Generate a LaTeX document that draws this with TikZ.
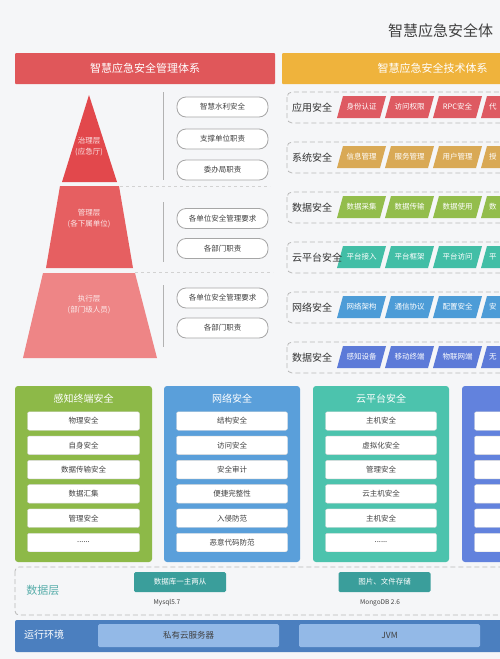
\documentclass[tikz,border=0pt]{standalone}
\usepackage{fontspec}
\setmainfont{Noto Sans CJK SC}
\usepackage{tikz}
\usetikzlibrary{positioning,calc}
\definecolor{pagebg}{HTML}{F5F6F8}
\definecolor{mgmtred}{HTML}{E0575A}
\definecolor{techorange}{HTML}{EFB33C}
\definecolor{pyrtop}{HTML}{E2484C}
\definecolor{pyrmid}{HTML}{E65F61}
\definecolor{pyrbot}{HTML}{EE8586}
\definecolor{tagred}{HTML}{DE5A62}
\definecolor{taggold}{HTML}{D9A955}
\definecolor{taggreen}{HTML}{93BD4C}
\definecolor{tagteal}{HTML}{42BEA6}
\definecolor{tagblue}{HTML}{4D9CD7}
\definecolor{tagindigo}{HTML}{5C7AD8}
\definecolor{colgreen}{HTML}{8DB948}
\definecolor{colblue}{HTML}{5A9FDA}
\definecolor{colteal}{HTML}{4CC3AD}
\definecolor{colindigo}{HTML}{6282DD}
\definecolor{datateal}{HTML}{3A9E9B}
\definecolor{runblue}{HTML}{4B7FBF}
\definecolor{runlight}{HTML}{93B9E7}
\tikzset{header/.style={rectangle, inner sep=0pt, text=white, font=\fontsize{11}{12}\selectfont},
  pill/.style={rectangle, rounded corners=9pt, draw=gray!70, line width=0.8pt, fill=white, minimum width=91pt, minimum height=20pt, inner sep=0pt, text=black!75, font=\fontsize{7.5}{8}\selectfont},
  layertext/.style={align=center, text=white, text opacity=0.85, font=\fontsize{7.5}{11}\selectfont},
  rowbox/.style={draw=gray!55, dash pattern=on 5pt off 3pt, rounded corners=5pt, line width=0.8pt},
  rowlab/.style={text=black!80, font=\fontsize{10}{11}\selectfont, inner sep=0pt},
  tagtext/.style={text=white, font=\fontsize{7.5}{8}\selectfont, inner sep=0pt},
  coltitle/.style={text=white, font=\fontsize{10}{11}\selectfont, inner sep=0pt},
  itembox/.style={rectangle, rounded corners=2pt, fill=white, draw=black!15, minimum height=18.5pt, inner sep=0pt, text=black!75, font=\fontsize{7.5}{8}\selectfont},
  dbbox/.style={rectangle, rounded corners=1.5pt, fill=datateal, minimum width=92pt, minimum height=20pt, inner sep=0pt, text=white, font=\fontsize{7.5}{8}\selectfont},
  runbox/.style={rectangle, rounded corners=1.5pt, fill=runlight, minimum width=181pt, minimum height=23pt, inner sep=0pt, text=black!75, font=\fontsize{8.5}{9}\selectfont},
  smalltext/.style={text=black!75, font=\fontsize{6.5}{7}\selectfont, inner sep=0pt}}
\newcommand{\moredots}{......}
\newcommand{\techrow}[5]{%
  \draw[rowbox] (287,#1) rectangle (520,#1+31);
  \foreach \t [count=\k from 0] in {#4} {
    \fill[#3] (337+48*\k,#1+26) -- ++(43,0) -- ++(6,-22) -- ++(-43,0) -- cycle;
    \node[tagtext] (tag-#1-\k) at (361.5+48*\k,#1+15) {\t};
  }
  \fill[#3] (481,#1+26) -- ++(43,0) -- ++(6,-22) -- ++(-43,0) -- cycle;
  \node[tagtext, anchor=west] (tag-#1-3) at (489,#1+15) {#5};
  \node[rowlab, anchor=west] (row-#1) at (292,#1+15.5) {#2};
}
\newcommand{\seccol}[5]{%
  \fill[#3, rounded corners=3pt] (#1,386) rectangle ++(#2,176);
  \node[coltitle] (col-#1) at (#1+#2/2,399) {#4};
  \foreach \t [count=\k from 0] in {#5} {
    \node[itembox, minimum width=#2-25] (item-#1-\k) at (#1+#2/2,421+24.3*\k) {\t};
  }
}
\begin{document}
\begin{tikzpicture}[x=1pt,y=-1pt]
\useasboundingbox (0,0) rectangle (500,659);
\fill[pagebg] (0,0) rectangle (500,659);
\node[anchor=west, inner sep=0pt, text=black!75, font=\fontsize{15}{16}\selectfont] (maintitle) at (388,31) {智慧应急安全体};
\fill[mgmtred, rounded corners=1pt] (15,53) rectangle (275,84);
\node[header] (mgmthead) at (145,68.5) {智慧应急安全管理体系};
\fill[techorange, rounded corners=1pt] (282,53) rectangle (583,84);
\node[header] (techhead) at (432.5,68.5) {智慧应急安全技术体系};
\fill[pyrtop] (89,95) -- (117,182) -- (62,182) -- cycle;
\fill[pyrmid] (60,186) -- (119,186) -- (133,268) -- (46,268) -- cycle;
\fill[pyrbot] (43,273) -- (135,273) -- (157,358) -- (23,358) -- cycle;
\node[layertext] (layer1) at (89,147) {治理层\\(应急厅)};
\node[layertext] (layer2) at (89,219) {管理层\\(各下属单位)};
\node[layertext] (layer3) at (89,305) {执行层\\(部门级人员)};
\draw[gray!60, line width=1pt] (163,92) -- (163,180) (163,202) -- (163,262) (163,285) -- (163,347);
\draw[gray!35, dashed] (120,186) -- (270,186) (135,272) -- (273,272);
\foreach \t/\y [count=\i] in {智慧水利安全/107, 支撑单位职责/139, 委办局职责/170, 各单位安全管理要求/218.5, 各部门职责/248.5, 各单位安全管理要求/298, 各部门职责/328}
  \node[pill] (duty-\i) at (222.5,\y) {\t};
\techrow{92}{应用安全}{tagred}{身份认证,访问权限,RPC安全}{代}
\techrow{142}{系统安全}{taggold}{信息管理,服务管理,用户管理}{授}
\techrow{192}{数据安全}{taggreen}{数据采集,数据传输,数据使用}{数}
\techrow{242}{云平台安全}{tagteal}{平台接入,平台框架,平台访问}{平}
\techrow{292}{网络安全}{tagblue}{网络架构,通信协议,配置安全}{安}
\techrow{342}{数据安全}{tagindigo}{感知设备,移动终端,物联网端}{无}
\seccol{15}{137}{colgreen}{感知终端安全}{物理安全,自身安全,数据传输安全,数据汇集,管理安全,\moredots}
\seccol{164}{136}{colblue}{网络安全}{结构安全,访问安全,安全审计,便捷完整性,入侵防范,恶意代码防范}
\seccol{313}{136}{colteal}{云平台安全}{主机安全,虚拟化安全,管理安全,云主机安全,主机安全,\moredots}
\seccol{462}{137}{colindigo}{}{{},{},{},{},{},{}}
\draw[rowbox, rounded corners=4pt] (15,567) rectangle (520,615);
\node[text=datateal!85!white, font=\fontsize{11}{12}\selectfont, inner sep=0pt] (datalayer) at (43,590) {数据层};
\node[dbbox] (mysqlbox) at (180,582) {数据库一主两从};
\node[smalltext] (mysql) at (167,603) {Mysql5.7};
\node[dbbox] (filebox) at (384.5,582) {图片、文件存储};
\node[smalltext] (mongo) at (380,603) {MongoDB 2.6};
\fill[runblue, rounded corners=2pt] (15,620) rectangle (520,652);
\node[text=white, font=\fontsize{10}{11}\selectfont, inner sep=0pt] (runenv) at (44,635) {运行环境};
\node[runbox] (cloudsrv) at (188.5,635.5) {私有云服务器};
\node[runbox] (jvm) at (389.5,635.5) {JVM};
\end{tikzpicture}
\end{document}
